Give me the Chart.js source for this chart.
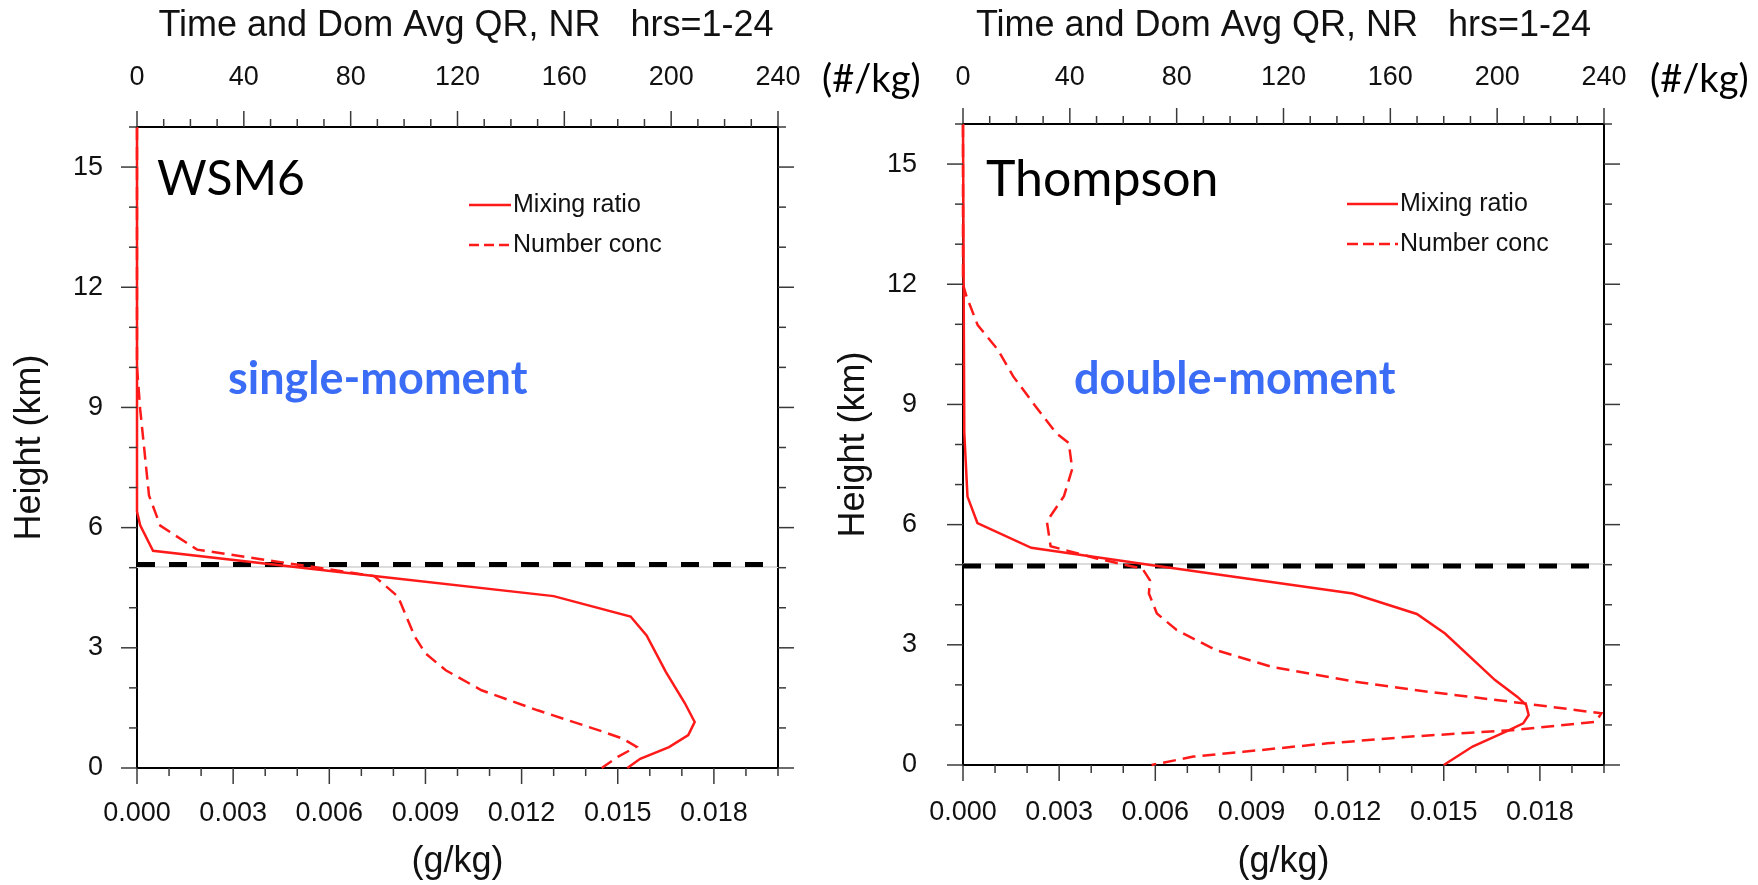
<!DOCTYPE html>
<html><head><meta charset="utf-8">
<script src="https://cdn.jsdelivr.net/npm/chart.js@4.4.0/dist/chart.umd.min.js"></script>
<style>
html,body{margin:0;padding:0;background:#fff;overflow:hidden;}
#wrap{position:relative;width:1758px;height:885px;}
.panel{position:absolute;top:0;height:885px;}
</style></head><body>
<div id="wrap">
  <div class="panel" style="left:0;width:932px"><canvas id="c-wsm" width="932" height="885"></canvas></div>
  <div class="panel" style="left:800px;width:958px"><canvas id="c-thom" width="958" height="885"></canvas></div>
</div>
<script>
// ── ticks ──
const yTicks  = [0,3,6,9,12,15];
const qrTicks = [0,0.003,0.006,0.009,0.012,0.015,0.018];
const nrTicks = [0,40,80,120,160,200,240];

// ── WSM6 (single-moment) ──
const wsmQrH = [16,6.4,6.06,5.42,4.79,4.29,3.78,3.31,2.4,1.61,1.15,0.82,0.52,0.23,0];
const wsmQr  = [0,0,0.0001,0.0005,0.0074,0.0130,0.0154,0.0159,0.0165,0.0171,0.0174,0.0172,0.0166,0.0157,0.0153];
const wsmNrH = [16,10.0,8.95,6.8,6.05,5.45,4.79,4.28,3.28,2.86,2.44,1.94,1.44,0.94,0.73,0.53,0.28,0];
const wsmNr  = [0,0,1.2,4.5,8.7,22.5,88.8,97.7,104,108,115.6,129,150,173,182,187,180,174];
const wsmMelt = 5.08;

// ── Thompson (double-moment) ──
const thoQrH = [16,8.3,6.7,6.04,5.42,5.0,4.28,3.77,3.28,2.12,1.7,1.5,1.25,1.04,0.87,0.46,0];
const thoQr  = [0,0.00004,0.00014,0.00045,0.00213,0.0058,0.01216,0.01416,0.01504,0.0166,0.0173,0.01757,0.01765,0.01748,0.01704,0.0159,0.0150];
const thoNrH = [16,12,11.7,10.98,10.36,9.7,8.95,8.29,8.04,7.39,6.71,6.08,5.46,5.15,4.9,4.61,4.28,3.78,3.37,2.87,2.45,2.08,1.83,1.54,1.29,1.08,0.87,0.71,0.54,0.33,0.21,0];
const thoNr  = [0,0,1.3,5.5,13.1,18.8,27.2,34.8,39.6,40.9,37.8,31.4,32.8,50.4,67.2,70,69.6,72.6,80,94.6,115.6,146.9,174,209.8,239,237,205.6,167.9,136.4,105,86.3,70.6];
const thoMelt = 4.97;

const refLevel = 5.02;

const NCL = '"Liberation Sans", Arial, Helvetica, sans-serif';
const CAL = 'Lato, "Open Sans", sans-serif';
const RED = '#ff1a1a';
const BLUE = '#3b6cf5';

Chart.defaults.color = '#111';
Chart.defaults.font.family = NCL;

const pts = (h,v) => h.map((y,i)=>({x:v[i], y}));

// ticks, frame, legend and labels drawn with the chart's scales
const decor = {
  id:'decor',
  beforeDatasetsDraw(chart){
    const {ctx,chartArea:a}=chart;
    ctx.save(); ctx.strokeStyle='#000'; ctx.lineWidth=2;
    ctx.strokeRect(a.left,a.top,a.right-a.left,a.bottom-a.top);
    ctx.restore();
  },
  afterDraw(chart,args,o){
    const {ctx,chartArea:a,scales}=chart;
    ctx.save();
    ctx.strokeStyle='#3a3a3a'; ctx.lineWidth=1.5;
    const seg=(x1,y1,x2,y2)=>{ctx.beginPath();ctx.moveTo(x1,y1);ctx.lineTo(x2,y2);ctx.stroke();};
    for(let i=0;i<=16;i++){
      const y=scales.y.getPixelForValue(i), L=i%3===0?16:8;
      seg(a.left-L,y,a.left,y); seg(a.right,y,a.right+L,y);
    }
    for(let i=0;i<=20;i++){
      const x=scales.x.getPixelForValue(i*0.001), L=i%3===0?16:8;
      seg(x,a.bottom,x,a.bottom+L);
    }
    for(let i=0;i<=24;i++){
      const x=scales.x2.getPixelForValue(i*10), L=i%4===0?16:8;
      seg(x,a.top-L,x,a.top);
    }
    // legend
    const lg=o.legend;
    ctx.font='25px '+NCL; ctx.textAlign='left'; ctx.textBaseline='middle'; ctx.fillStyle='#111';
    lg.items.forEach(it=>{
      const ds=chart.data.datasets[it.ds];
      ctx.strokeStyle=ds.borderColor; ctx.lineWidth=2.5;
      ctx.setLineDash(it.dash||[]);
      seg(lg.x1,it.y,lg.x2,it.y);
      ctx.setLineDash([]);
      ctx.fillText(ds.label,lg.x2+2,it.y);
    });
    // notes
    o.notes.forEach(n=>{
      ctx.font=n.font; ctx.fillStyle=n.color||'#000';
      ctx.textBaseline=n.base||'alphabetic'; ctx.textAlign='left';
      ctx.fillText(n.text,n.x,n.y);
    });
    ctx.restore();
  }
};

function makeChart(id,o){
  const scales={
    x:{type:'linear',position:'bottom',min:0,max:0.02,
       afterBuildTicks:s=>{s.ticks=qrTicks.map(v=>({value:v}));},
       afterFit:s=>{s.height=o.bottomH;},
       ticks:{callback:v=>v.toFixed(3),font:{size:27},padding:o.padX,maxRotation:0,autoSkip:false},
       grid:{display:false,drawTicks:false}, border:{display:false},
       title:{display:true,text:'(g/kg)',font:{size:36},padding:{top:0,bottom:1}}},
    x2:{type:'linear',position:'top',min:0,max:240,
       afterBuildTicks:s=>{s.ticks=nrTicks.map(v=>({value:v}));},
       afterFit:s=>{s.height=o.topH;},
       ticks:{font:{size:27},padding:o.padTop,maxRotation:0,autoSkip:false},
       grid:{display:false,drawTicks:false}, border:{display:false}},
    y:{type:'linear',position:'left',min:0,max:16,
       afterBuildTicks:s=>{s.ticks=yTicks.map(v=>({value:v}));},
       afterFit:s=>{s.width=o.leftW;},
       ticks:{font:{size:27},padding:o.padY,autoSkip:false},
       grid:{display:false,drawTicks:false}, border:{display:false},
       title:{display:true,text:'Height (km)',font:{size:36},padding:{top:o.yTitlePad,bottom:0}}}
  };
  if(o.rightW){
    // empty right-hand box so the title centres over the whole panel
    scales.yr={type:'linear',position:'right',min:0,max:16,
       afterFit:s=>{s.width=o.rightW;},
       ticks:{display:false}, grid:{display:false,drawTicks:false}, border:{display:false}};
  }
  return new Chart(document.getElementById(id),{
    type:'scatter',
    data:{datasets:[
      {label:'Mixing ratio', data:pts(o.qrH,o.qr), xAxisID:'x', yAxisID:'y',
       showLine:true, borderColor:RED, borderWidth:2.5, pointRadius:0, clip:false},
      {label:'Number conc', data:pts(o.nrH,o.nr), xAxisID:'x2', yAxisID:'y',
       showLine:true, borderColor:RED, borderWidth:2.5, borderDash:[13,7], pointRadius:0, clip:false},
      {label:'melting level', data:[{x:0,y:o.melt},{x:0.02,y:o.melt}], xAxisID:'x', yAxisID:'y',
       showLine:true, borderColor:'#000', borderWidth:5, borderDash:[18,14], pointRadius:0},
      {label:'ref', data:[{x:0,y:refLevel},{x:0.02,y:refLevel}], xAxisID:'x', yAxisID:'y',
       showLine:true, borderColor:'#dcdcdc', borderWidth:2, pointRadius:0}
    ]},
    options:{
      responsive:false, animation:false, devicePixelRatio:1,
      layout:{padding:{left:0,right:o.padR,top:0,bottom:0}},
      plugins:{
        legend:{display:false}, tooltip:{enabled:false},
        title:{display:true, text:'Time and Dom Avg QR, NR   hrs=1-24', fullSize:!!o.rightW,
               font:{family:NCL,size:36,weight:'normal'}, color:'#111', padding:{top:4,bottom:0}},
        decor:{legend:o.legend, notes:o.notes}
      },
      scales
    },
    plugins:[decor]
  });
}

// title box = 4 + 36*1.2 = 47.2
makeChart('c-wsm',{
  qrH:wsmQrH, qr:wsmQr, nrH:wsmNrH, nr:wsmNr, melt:wsmMelt,
  padR:0, rightW:154, bottomH:117, topH:79.8, leftW:137,
  padX:29, padTop:33, padY:34, yTitlePad:8,
  legend:{x1:469,x2:511,items:[{ds:0,y:205},{ds:1,y:245,dash:[10,5]}]},
  notes:[
    {text:'(#/kg)',x:822,y:80,font:'38px '+CAL,base:'middle'},
    {text:'WSM6',x:157,y:195,font:'48px '+CAL},
    {text:'single-moment',x:228,y:394,font:'bold 45px '+CAL,color:BLUE}
  ]
});

makeChart('c-thom',{
  qrH:thoQrH, qr:thoQr, nrH:thoNrH, nr:thoNr, melt:thoMelt,
  padR:154, bottomH:120, topH:76.8, leftW:163,
  padX:31, padTop:30, padY:46, yTitlePad:32,
  legend:{x1:547,x2:598,items:[{ds:0,y:204},{ds:1,y:244,dash:[11,5]}]},
  notes:[
    {text:'(#/kg)',x:850,y:80,font:'38px '+CAL,base:'middle'},
    {text:'Thompson',x:186,y:196,font:'50px '+CAL},
    {text:'double-moment',x:274,y:394,font:'bold 45px '+CAL,color:BLUE}
  ]
});
</script>
</body></html>
